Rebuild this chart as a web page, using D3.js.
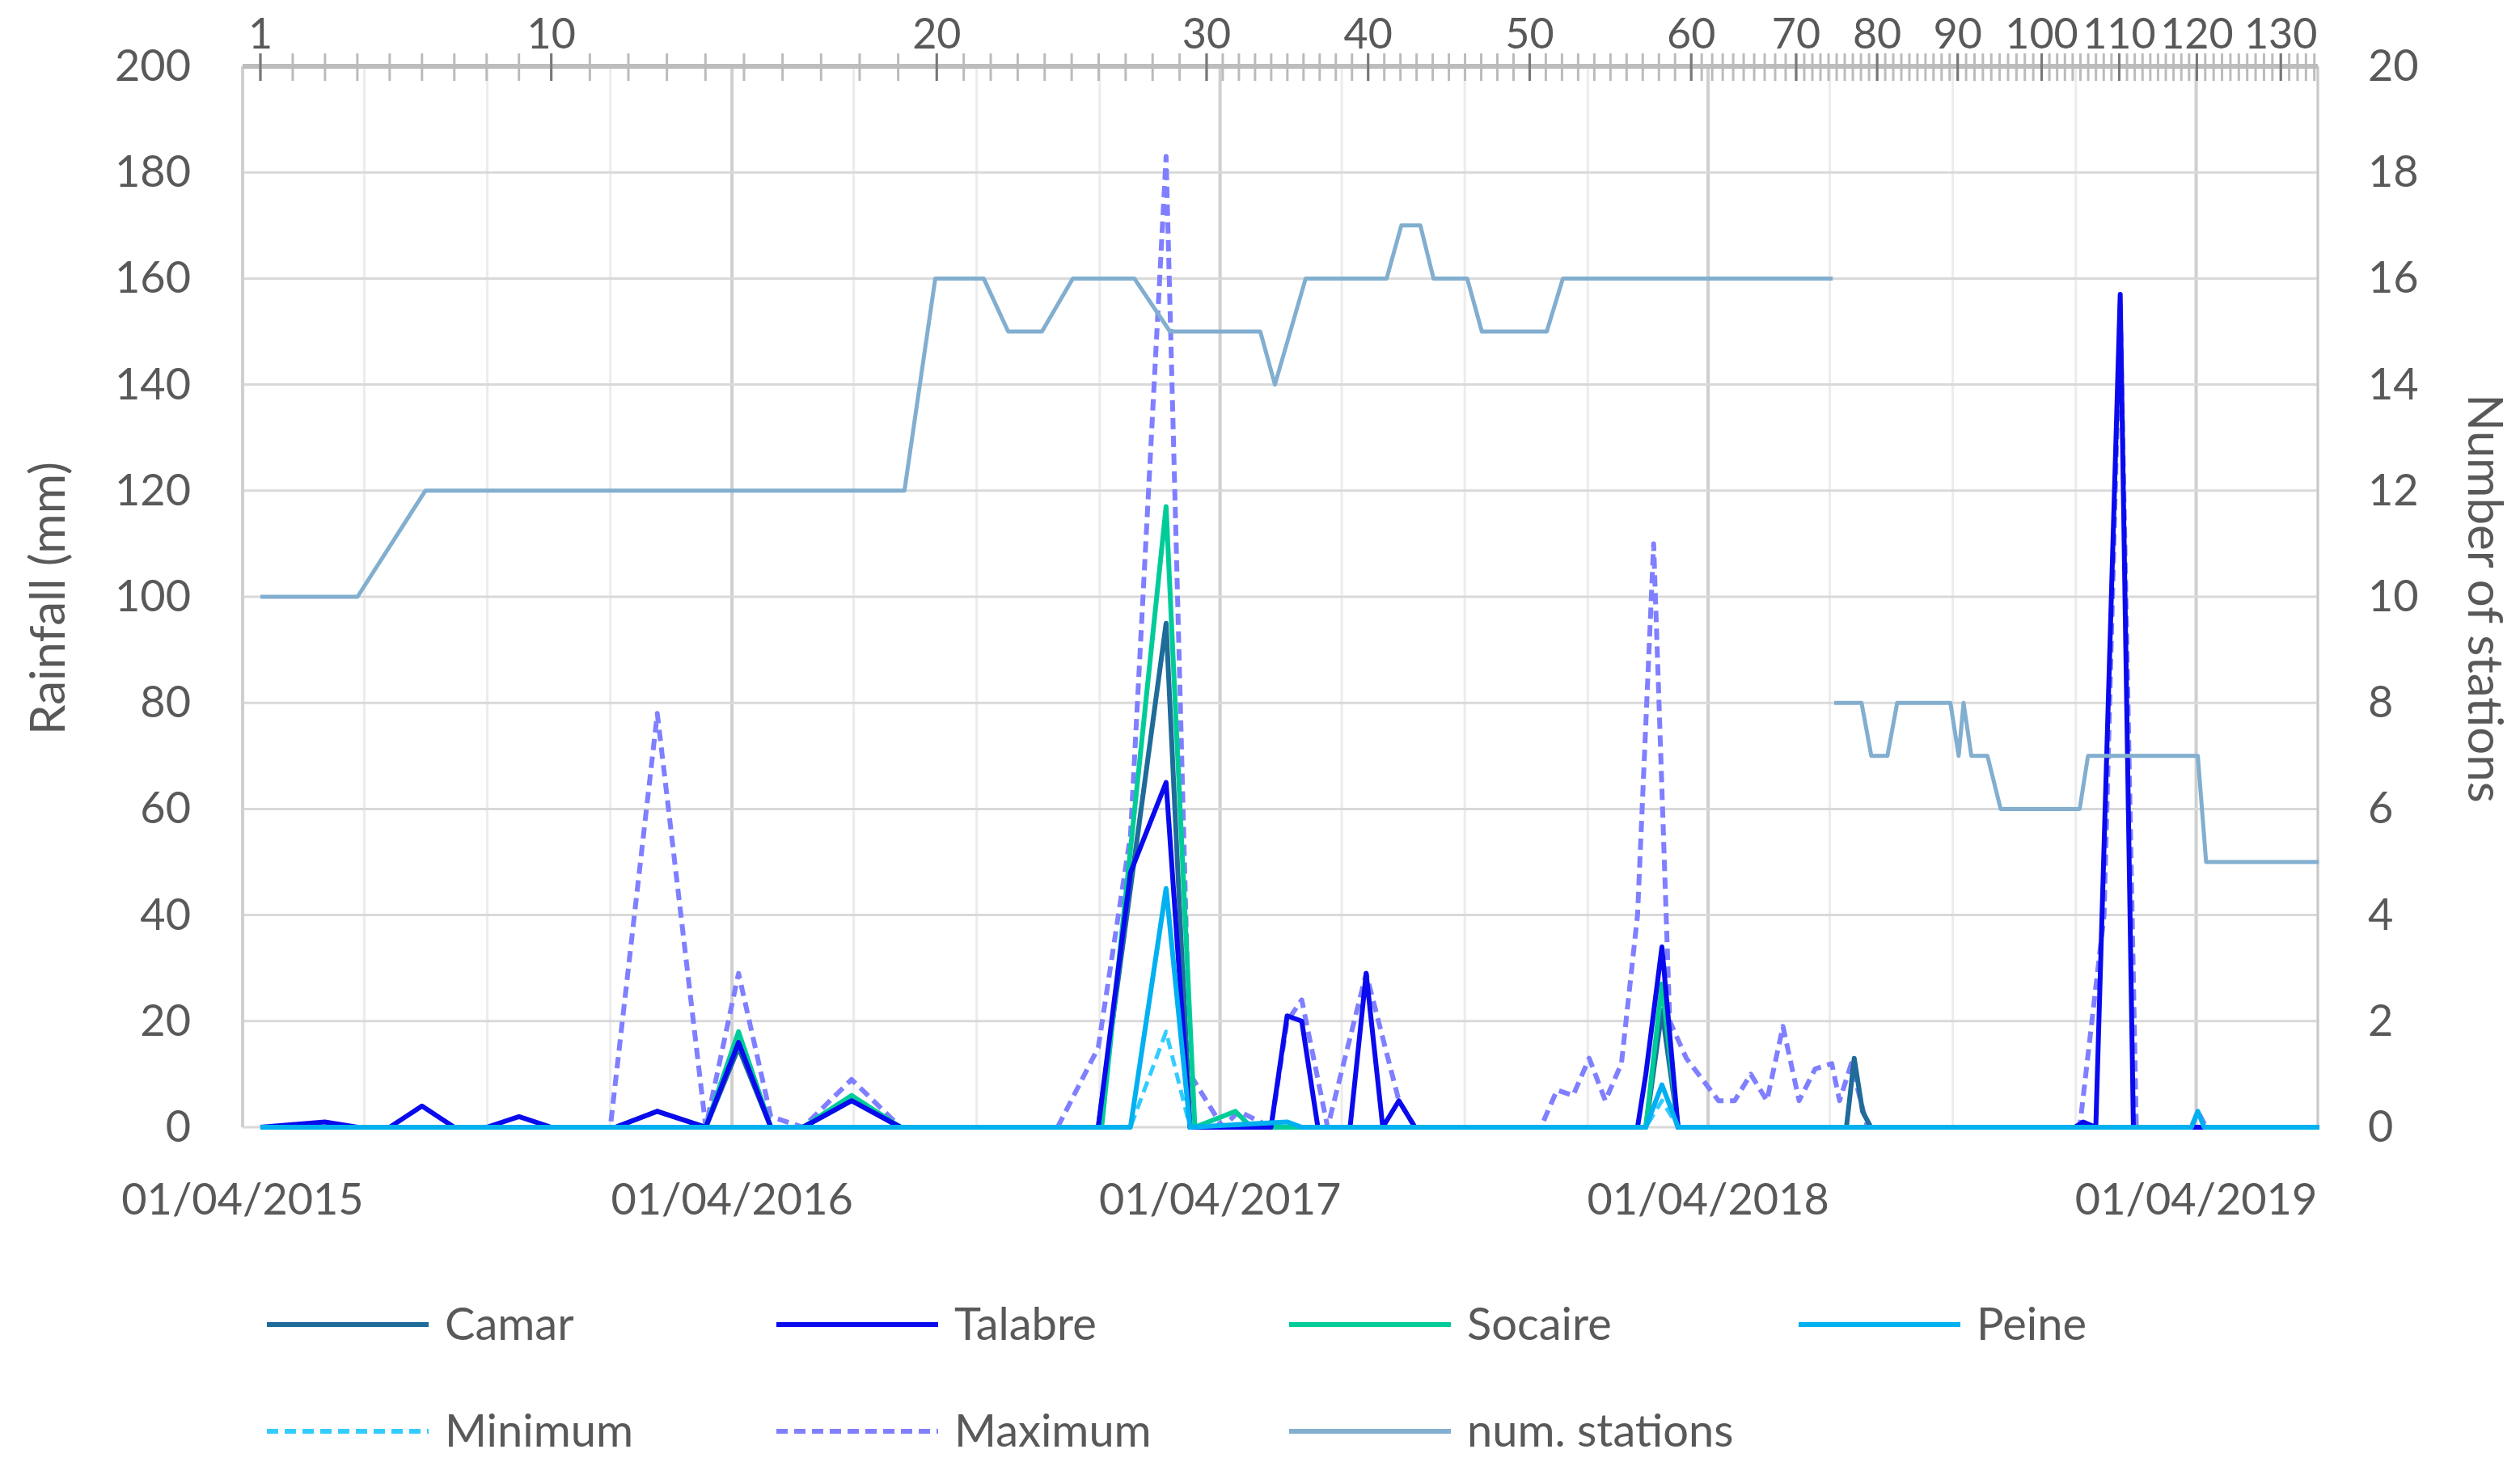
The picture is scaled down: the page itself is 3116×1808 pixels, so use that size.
<!DOCTYPE html>
<html><head><meta charset="utf-8">
<script src="https://cdn.jsdelivr.net/npm/d3@7"></script>
<style>body{margin:0;background:#fff}svg{font-family:Lato,'Open Sans',sans-serif}</style>
</head><body><svg id="c" width="3116" height="1808"></svg>
<script>
// decimal-year positions
const stations = [[2015.283,10],[2015.482,10],[2015.621,12],[2016.601,12],[2016.664,16],[2016.763,16],[2016.813,15],[2016.882,15],[2016.945,16],[2017.071,16],[2017.144,15],[2017.329,15],[2017.359,14],[2017.422,16],[2017.588,16],[2017.618,17],[2017.657,17],[2017.684,16],[2017.753,16],[2017.783,15],[2017.916,15],[2017.949,16],[2018.502,16],null,
[2018.505,8],[2018.561,8],[2018.581,7],[2018.614,7],[2018.634,8],[2018.743,8],[2018.760,7],[2018.770,8],[2018.786,7],[2018.819,7],[2018.846,6],[2019.008,6],[2019.025,7],[2019.250,7],[2019.267,5],[2019.498,5]];
const maximum = [[2015.283,0],[2016.0,0],[2016.096,78],[2016.195,0],[2016.262,29],[2016.328,2],[2016.394,0],[2016.493,9],[2016.593,0],[2016.914,0],[2016.997,15],[2017.063,55],[2017.136,183],[2017.185,10],[2017.252,0],[2017.285,3],[2017.351,0],[2017.384,20],[2017.414,24],[2017.467,0],[2017.546,29],[2017.613,5],[2017.646,0],[2017.904,0],[2017.937,7],[2017.970,6],[2018.003,13],[2018.036,5],[2018.069,12],[2018.102,40],[2018.135,110],[2018.168,20],[2018.202,13],[2018.235,9],[2018.268,5],[2018.301,5],[2018.334,10],[2018.367,5],[2018.400,19],[2018.433,5],[2018.466,11],[2018.500,12],[2018.516,5],[2018.540,12],[2018.573,0],[2019.008,0],[2019.058,40],[2019.091,155],[2019.124,0],[2019.237,0],[2019.250,3],[2019.267,0],[2019.498,0]];
const talabre = [[2015.283,0],[2015.415,1],[2015.482,0],[2015.548,0],[2015.614,4],[2015.680,0],[2015.747,0],[2015.813,2],[2015.879,0],[2016.011,0],[2016.096,3],[2016.195,0],[2016.262,16],[2016.328,0],[2016.394,0],[2016.493,5],[2016.593,0],[2016.997,0],[2017.063,48],[2017.136,65],[2017.185,0],[2017.351,0],[2017.384,21],[2017.414,20],[2017.447,0],[2017.513,0],[2017.546,29],[2017.580,0],[2017.613,5],[2017.646,0],[2018.102,0],[2018.119,10],[2018.152,34],[2018.185,0],[2018.998,0],[2019.015,1],[2019.041,0],[2019.091,157],[2019.118,0],[2019.498,0]];
const camar = [[2015.283,0],[2016.011,0],[2016.096,3],[2016.195,0],[2016.262,15],[2016.328,0],[2016.394,0],[2016.493,5],[2016.593,0],[2016.997,0],[2017.063,45],[2017.136,95],[2017.185,0],[2018.119,0],[2018.152,22],[2018.185,0],[2018.530,0],[2018.546,13],[2018.563,3],[2018.580,0],[2019.498,0]];
const socaire = [[2015.283,0],[2016.195,0],[2016.262,18],[2016.328,0],[2016.394,0],[2016.493,6],[2016.593,0],[2017.004,0],[2017.136,117],[2017.195,0],[2017.278,3],[2017.311,0],[2018.119,0],[2018.152,27],[2018.185,0],[2019.498,0]];
const peine = [[2015.283,0],[2017.063,0],[2017.136,45],[2017.185,0],[2017.384,1],[2017.414,0],[2018.119,0],[2018.152,8],[2018.185,0],[2019.237,0],[2019.250,3],[2019.263,0],[2019.498,0]];
const minimum = [[2015.283,0],[2017.063,0],[2017.136,18],[2017.185,0],[2018.119,0],[2018.152,5],[2018.185,0],[2019.498,0]];
const eventLabels = [1,10,20,30,40,50,60,70,80,90,100,110,120,130];
const eventPos = [2015.283,2015.879,2016.667,2017.219,2017.550,2017.881,2018.212,2018.427,2018.593,2018.758,2018.930,2019.089,2019.248,2019.420];
const seriesNames = ["Camar","Talabre","Socaire","Peine","Minimum","Maximum","num. stations"];

function toDate(t){const y=Math.floor(t);const s=new Date(y,0,1),e=new Date(y+1,0,1);return new Date(+s+(t-y)*(e-s));}
const svg=d3.select("#c");
const L=300,R=2866,T=82,B=1394;
const x=d3.scaleTime().domain([new Date(2015,3,1),new Date(2019,6,1)]).range([L,R]);
const y=d3.scaleLinear().domain([0,200]).range([B,T]);
const y2=d3.scaleLinear().domain([0,20]).range([B,T]);
const ev=d3.scaleLinear().domain(eventLabels).range(eventPos.map(t=>x(toDate(t))));

// gridlines
const months=d3.timeMonth.every(3).range(new Date(2015,3,1),new Date(2019,6,2));
svg.append("g").selectAll("line").data(months).join("line")
 .attr("x1",d=>x(d)).attr("x2",d=>x(d)).attr("y1",T).attr("y2",B)
 .attr("stroke",d=>d.getMonth()===3?"#cfcfcf":"#ececec").attr("stroke-width",d=>d.getMonth()===3?4:3);
svg.append("g").selectAll("line").data(d3.range(0,201,20)).join("line")
 .attr("x1",L).attr("x2",R).attr("y1",d=>y(d)).attr("y2",d=>y(d)).attr("stroke","#d9d9d9").attr("stroke-width",3);
svg.append("line").attr("x1",R).attr("x2",R).attr("y1",T).attr("y2",B).attr("stroke","#c8c8c8").attr("stroke-width",3);
svg.append("line").attr("x1",L).attr("x2",L).attr("y1",T).attr("y2",B).attr("stroke","#d0d0d0").attr("stroke-width",3);

// top event axis
svg.append("line").attr("x1",L).attr("x2",R).attr("y1",T).attr("y2",T).attr("stroke","#bdbdbd").attr("stroke-width",6);
const evTicks=d3.range(1,135);
svg.append("g").selectAll("line").data(evTicks).join("line")
 .attr("x1",d=>ev(d)).attr("x2",d=>ev(d)).attr("y1",T-16).attr("y2",T+18)
 .attr("stroke","#bbbbbb").attr("stroke-width",3);
svg.append("g").selectAll("line").data(eventLabels).join("line")
 .attr("x1",d=>ev(d)).attr("x2",d=>ev(d)).attr("y1",T-16).attr("y2",T+18).attr("stroke","#777").attr("stroke-width",3);
svg.append("g").selectAll("text").data(eventLabels).join("text")
 .attr("x",d=>ev(d)).attr("y",T-22).attr("text-anchor","middle").attr("font-size",52).attr("fill","#595959").text(d=>d);

// left/right/bottom axes labels
svg.append("g").selectAll("text").data(d3.range(0,201,20)).join("text")
 .attr("x",236).attr("y",d=>y(d)+18).attr("text-anchor","end").attr("font-size",54).attr("fill","#595959").text(d=>d);
svg.append("g").selectAll("text").data(d3.range(0,21,2)).join("text")
 .attr("x",2928).attr("y",d=>y2(d)+18).attr("text-anchor","start").attr("font-size",54).attr("fill","#595959").text(d=>d);
const years=[2015,2016,2017,2018,2019].map(yy=>new Date(yy,3,1));
svg.append("g").selectAll("text").data(years).join("text")
 .attr("x",d=>x(d)).attr("y",1502).attr("text-anchor","middle").attr("font-size",54).attr("fill","#595959").text(d3.timeFormat("%d/%m/%Y"));
svg.append("text").attr("transform","translate(80,740) rotate(-90)").attr("text-anchor","middle").attr("font-size",60).attr("fill","#595959").text("Rainfall (mm)");
svg.append("text").attr("transform","translate(3052,740) rotate(90)").attr("text-anchor","middle").attr("font-size",60).attr("fill","#595959").text("Number of  stations");

// series
const defs=[
 {n:"Maximum",d:maximum,c:"#7f7fff",w:6,dash:"14,8",ax:y},
 {n:"Minimum",d:minimum,c:"#33ccff",w:5,dash:"14,8",ax:y},
 {n:"Camar",d:camar,c:"#1f6b9a",w:6,ax:y},
 {n:"Socaire",d:socaire,c:"#00cc99",w:6,ax:y},
 {n:"Talabre",d:talabre,c:"#0a0aee",w:6,ax:y},
 {n:"Peine",d:peine,c:"#00b0f0",w:6,ax:y},
 {n:"num. stations",d:stations,c:"#82aecf",w:5,ax:y2}];
defs.forEach(s=>{
 const line=d3.line().defined(p=>p!==null).x(p=>x(toDate(p[0]))).y(p=>s.ax(p[1]));
 svg.append("path").datum(s.d).attr("d",line).attr("fill","none").attr("stroke",s.c).attr("stroke-width",s.w)
  .attr("stroke-dasharray",s.dash||null).attr("stroke-linejoin","round");
});

// legend
const leg=[["Camar",330,1638],["Talabre",960,1638],["Socaire",1594,1638],["Peine",2224,1638],["Minimum",330,1770],["Maximum",960,1770],["num. stations",1594,1770]];
leg.forEach(([n,lx,ly])=>{
 const s=defs.find(d=>d.n===n);
 svg.append("line").attr("x1",lx).attr("x2",lx+200).attr("y1",ly).attr("y2",ly).attr("stroke",s.c).attr("stroke-width",6).attr("stroke-dasharray",s.dash||null);
 svg.append("text").attr("x",lx+220).attr("y",ly+19).attr("font-size",56).attr("fill","#595959").text(n);
});
</script></body></html>
